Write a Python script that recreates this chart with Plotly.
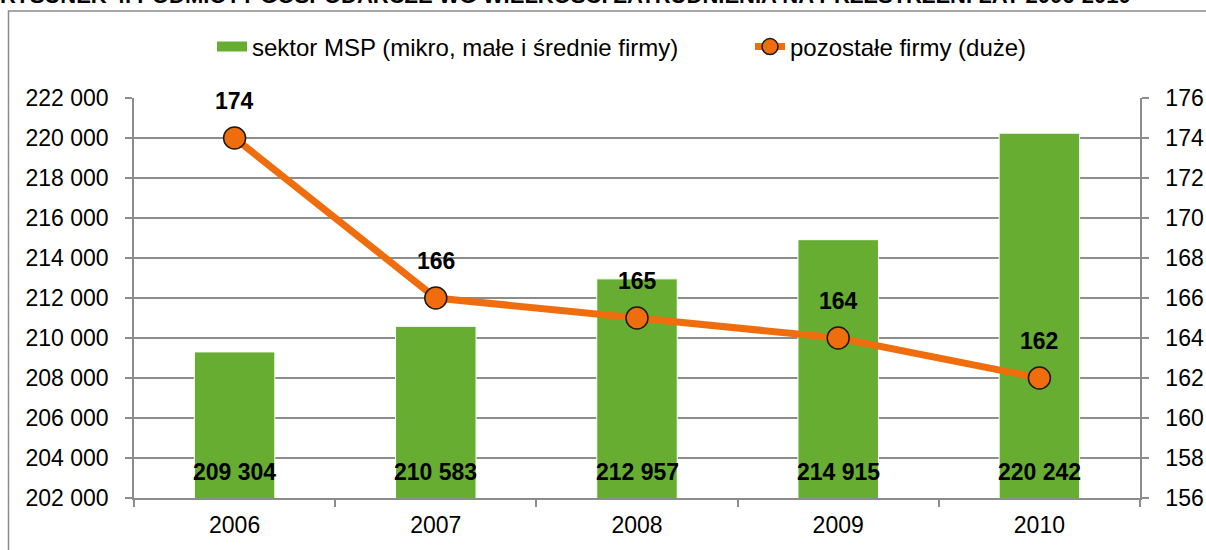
import plotly.graph_objects as go

years = ["2006", "2007", "2008", "2009", "2010"]
msp_values = [209304, 210583, 212957, 214915, 220242]
large_values = [174, 166, 165, 164, 162]
left_ticks = [202000, 204000, 206000, 208000, 210000, 212000, 214000, 216000, 218000, 220000, 222000]
right_ticks = [156, 158, 160, 162, 164, 166, 168, 170, 172, 174, 176]
title_text = "RYSUNEK 4. PODMIOTY GOSPODARCZE WG WIELKOŚCI ZATRUDNIENIA NA PRZESTRZENI LAT 2006-2010"
msp_name = "sektor MSP (mikro, małe i średnie firmy)"
large_name = "pozostałe firmy (duże)"

GREEN = "#66AD31"
ORANGE = "#EF6D0D"
GRID = "#8C8C8C"
FONT = "Liberation Sans, Arial, sans-serif"

fig = go.Figure()
fig.add_trace(go.Bar(
    x=years, y=msp_values, name=msp_name, showlegend=False,
    marker=dict(color=GREEN, line=dict(color="white", width=1)),
    width=0.4,
))
# legend entry drawn as a wide green block, as in the reference
fig.add_trace(go.Scatter(
    x=[None], y=[None], name=msp_name, mode="lines", legend="legend",
    line=dict(color=GREEN, width=11),
))
fig.add_trace(go.Scatter(
    x=years, y=large_values, name=large_name, yaxis="y2", legend="legend2",
    mode="lines+markers",
    line=dict(color=ORANGE, width=7),
    marker=dict(size=22, color=ORANGE, line=dict(color="#1a1a1a", width=1.5)),
))

annotations = []
# category index positions (avoid numeric-looking category strings in annotations)
for i, v in enumerate(msp_values):
    annotations.append(dict(
        x=i, y=203300, xref="x", yref="y", text=f"{v:,}".replace(",", " "),
        showarrow=False, font=dict(family=FONT, size=23, color="black", weight="bold"),
    ))
for i, v in enumerate(large_values):
    annotations.append(dict(
        x=i, y=v, xref="x", yref="y2", text=str(v), yshift=37,
        showarrow=False, font=dict(family=FONT, size=23, color="black", weight="bold"),
    ))
annotations.append(dict(
    x=(-2 - 134) / 1006, y=1 + (98 - 10) / 400, xref="paper", yref="paper",
    xanchor="left", yanchor="bottom", text=title_text, showarrow=False,
    font=dict(family=FONT, size=22, color="black", weight="bold"),
))

legend_common = dict(
    orientation="h", xanchor="left", yanchor="middle",
    y=1 + (98 - 47) / 400,
    font=dict(family=FONT, size=24, color="black"),
    bgcolor="rgba(0,0,0,0)",
)

fig.update_layout(
    width=1206, height=550,
    margin=dict(l=134, r=66, t=98, b=52, autoexpand=False),
    paper_bgcolor="white", plot_bgcolor="white",
    separators=". ",
    font=dict(family=FONT, size=20, color="black"),
    showlegend=True,
    legend=dict(x=(212 - 134) / 1006, **legend_common),
    legend2=dict(x=(750 - 134) / 1006, **legend_common),
    xaxis=dict(
        type="category", categoryorder="array", categoryarray=years,
        range=[-0.5, len(years) - 0.5], automargin=False,
        showline=True, linecolor=GRID, linewidth=1.5,
        ticks="outside", tickson="boundaries", ticklen=7, tickcolor=GRID, tickwidth=1.5,
        ticklabelstandoff=6, tickfont=dict(size=23), showgrid=False,
    ),
    yaxis=dict(
        range=[202000, 222000], tickvals=left_ticks, tickformat=",d", automargin=False,
        showline=True, linecolor=GRID, linewidth=1.5,
        ticks="outside", ticklen=7, tickcolor=GRID, tickwidth=1.5,
        showgrid=True, gridcolor=GRID, gridwidth=1.5,
        ticklabelstandoff=12, tickfont=dict(size=23), zeroline=False,
    ),
    yaxis2=dict(
        range=[156, 176], tickvals=right_ticks, overlaying="y", side="right", automargin=False,
        showline=True, linecolor=GRID, linewidth=1.5,
        ticks="outside", ticklen=7, tickcolor=GRID, tickwidth=1.5,
        showgrid=False, ticklabelstandoff=12, tickfont=dict(size=23), zeroline=False,
    ),
    annotations=annotations,
    shapes=[dict(
        type="rect", xref="paper", yref="paper",
        x0=(8.5 - 134) / 1006, x1=1.2, y0=-0.3, y1=1 + (98 - 11) / 400,
        line=dict(color="#8C8C8C", width=1.5), layer="below",
    )],
)

fig.write_html(
    "out.html",
    config={"displayModeBar": False},
    post_script="document.body.style.margin='0';document.body.style.overflow='hidden';",
)
